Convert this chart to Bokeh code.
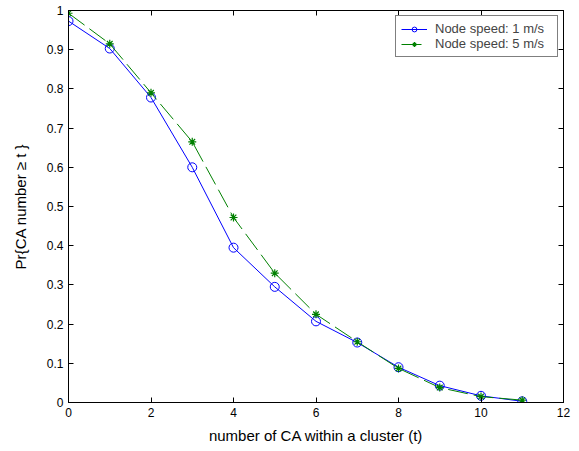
from bokeh.plotting import figure
from bokeh.models import LinearAxis, FixedTicker, Legend, LegendItem, Range1d, CustomJSTickFormatter
from bokeh.embed import file_html
from bokeh.resources import INLINE

t = [0, 1, 2, 3, 4, 5, 6, 7, 8, 9, 10, 11]
speed1 = [0.973, 0.903, 0.778, 0.600, 0.395, 0.295, 0.207, 0.153, 0.090, 0.043, 0.017, 0.003]
speed5 = [0.993, 0.915, 0.790, 0.665, 0.472, 0.330, 0.225, 0.155, 0.087, 0.038, 0.015, 0.006]
x_ticks = [0, 2, 4, 6, 8, 10, 12]
y_ticks = [0, 0.1, 0.2, 0.3, 0.4, 0.5, 0.6, 0.7, 0.8, 0.9, 1]
y_labels = ["0", "0.1", "0.2", "0.3", "0.4", "0.5", "0.6", "0.7", "0.8", "0.9", "1"]
names = ["Node speed: 1 m/s", "Node speed: 5 m/s"]

FONT = "Liberation Sans"

p = figure(width=575, height=447, output_backend="svg", toolbar_location=None,
           x_range=Range1d(0, 12), y_range=Range1d(0, 1),
           min_border_left=68, min_border_right=12, min_border_top=10, min_border_bottom=45)
p.xgrid.visible = False
p.ygrid.visible = False
p.outline_line_color = "black"
p.outline_line_width = 1

def style(ax):
    ax.axis_line_color = "black"
    ax.major_tick_in = 5
    ax.major_tick_out = 0
    ax.minor_tick_line_color = None
    ax.major_label_text_font = FONT
    ax.major_label_text_font_size = "12px"
    ax.major_label_text_color = "black"
    ax.axis_label_text_font = FONT
    ax.axis_label_text_font_size = "15px"
    ax.axis_label_text_font_style = "normal"
    ax.axis_label_text_color = "black"

p.xaxis.ticker = FixedTicker(ticks=x_ticks)
p.yaxis.ticker = FixedTicker(ticks=y_ticks)
p.yaxis.major_label_overrides = {v: s for v, s in zip(y_ticks, y_labels)}
p.xaxis.axis_label = "number of CA within a cluster (t)"
p.yaxis.axis_label = "Pr{CA number \u2265 t }"
p.xaxis.axis_label_standoff = 7
p.yaxis.axis_label_standoff = 15
style(p.xaxis[0])
style(p.yaxis[0])

blank = CustomJSTickFormatter(code="return ''")
top = LinearAxis(ticker=FixedTicker(ticks=x_ticks), formatter=blank)
right = LinearAxis(ticker=FixedTicker(ticks=y_ticks), formatter=blank)
style(top)
style(right)
p.add_layout(top, "above")
p.add_layout(right, "right")

l1 = p.line(t, speed1, line_color="blue", line_width=1)
s1 = p.scatter(t, speed1, marker="circle", size=9, fill_color=None, line_color="blue", line_width=1)
l2 = p.line(t, speed5, line_color="green", line_width=1, line_dash="20 6")
s2 = p.scatter(t, speed5, marker="asterisk", size=8, line_color="green", line_width=1.2)

legend = Legend(items=[LegendItem(label=names[0], renderers=[l1, s1]),
                       LegendItem(label=names[1], renderers=[l2, s2])],
                location="top_right")
legend.label_text_font = FONT
legend.label_text_font_size = "13px"
legend.border_line_color = "black"
legend.border_line_width = 1
legend.padding = 5
legend.spacing = 0
legend.margin = 5
legend.glyph_width = 26
legend.glyph_height = 12
legend.label_height = 12
legend.label_width = 117
legend.label_standoff = 8
legend.background_fill_alpha = 1
p.add_layout(legend)

open("out.html", "w").write(file_html(p, INLINE))
